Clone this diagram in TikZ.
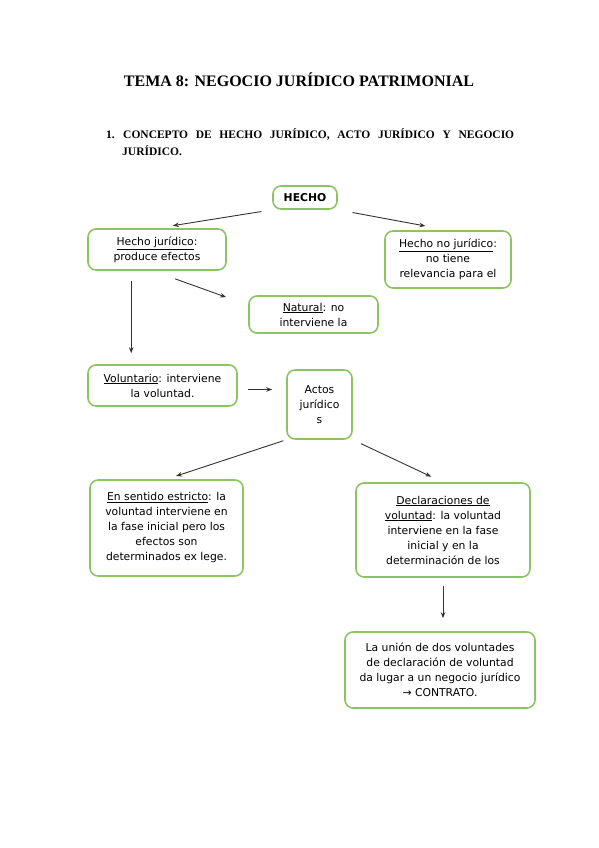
\documentclass[tikz,border=0pt]{standalone}
\usepackage{fontspec}
\setmainfont{Liberation Serif}
\newfontfamily\boxfont{DejaVu Sans}
\usetikzlibrary{arrows.meta}
\definecolor{boxgreen}{RGB}{140,196,100}

\begin{document}
\begin{tikzpicture}[x=1pt,y=-1pt,
    caja/.style={draw=boxgreen,line width=1.6pt,rounded corners=8pt,align=center,
      font=\boxfont\fontsize{10.8}{15}\selectfont,inner sep=0pt},
    arr/.style={-{Stealth[length=6pt,width=4.5pt]},draw=black!80,line width=0.9pt}]
        \useasboundingbox (0,0) rectangle (599,848);
        % titles
        \node[font=\fontsize{16}{18}\selectfont\bfseries] (tema) at (299,80) {TEMA 8: NEGOCIO JURÍDICO PATRIMONIAL};
        \node[anchor=base west,font=\fontsize{11.5}{14}\selectfont\bfseries,inner sep=0pt] (sec) at (106,139)
            {\makebox[408pt][s]{\makebox[17pt][l]{1.}CONCEPTO DE HECHO JURÍDICO, ACTO JURÍDICO Y NEGOCIO}};
        \node[anchor=base west,font=\fontsize{11.5}{14}\selectfont\bfseries,inner sep=0pt] (sec2) at (122,155) {JURÍDICO.};
        % boxes
        \node[caja,minimum width=64pt,minimum height=23pt] (hecho) at (305,197.5) {\textbf{HECHO}};
        \node[caja,minimum width=138pt,minimum height=41pt] (hj) at (157,249.5) {\underline{Hecho jurídico}:\\produce efectos};
        \node[caja,minimum width=126pt,minimum height=57pt] (hnj) at (448,259.5) {\underline{Hecho no jurídico}:\\no tiene\\relevancia para el};
        \node[caja,minimum width=129pt,minimum height=37pt] (nat) at (313.5,314.5) {\underline{Natural}: no\\interviene la};
        \node[caja,minimum width=149pt,minimum height=41pt] (vol) at (162.5,385.5) {\underline{Voluntario}: interviene\\la voluntad.};
        \node[caja,minimum width=65pt,minimum height=69pt] (actos) at (319.5,404.5) {Actos\\jurídico\\s};
        \node[caja,minimum width=153pt,minimum height=96pt] (es) at (166.5,528) {\underline{En sentido estricto}: la\\voluntad interviene en\\la fase inicial pero los\\efectos son\\determinados ex lege.};
        \node[caja,minimum width=174pt,minimum height=94pt] (decl) at (443,530) {\underline{Declaraciones de}\\\underline{voluntad}: la voluntad\\interviene en la fase\\inicial y en la\\determinación de los};
        \node[caja,minimum width=190pt,minimum height=76pt] (union) at (440,670) {La unión de dos voluntades\\de declaración de voluntad\\da lugar a un negocio jurídico\\→ CONTRATO.};
        % arrows
        \draw[arr,shorten <=11pt,shorten >=16pt] (hecho.south west) -- (hj.north);
        \draw[arr,shorten <=15pt,shorten >=23pt] (hecho.south east) -- (hnj.north);
        \draw[arr,shorten <=10pt,shorten >=11pt] ([xshift=44pt]hj.south west) -- ([xshift=44pt]vol.north west);
        \draw[arr] ([xshift=18pt,yshift=-8pt]hj.south) -- ([xshift=-22pt,yshift=-2pt]nat.north west);
        \draw[arr,shorten <=10pt,shorten >=14pt] ([yshift=-4pt]vol.east) -- ([yshift=-4pt]vol.east -| actos.west);
        \draw[arr,shorten <=3pt,shorten >=10pt] (actos.south west) -- (es.north);
        \draw[arr,shorten <=9pt,shorten >=13pt] (actos.south east) -- (decl.north);
        \draw[arr,shorten <=8pt,shorten >=13pt] (decl.south) -- (decl.south |- union.north);
\end{tikzpicture}
\end{document}
